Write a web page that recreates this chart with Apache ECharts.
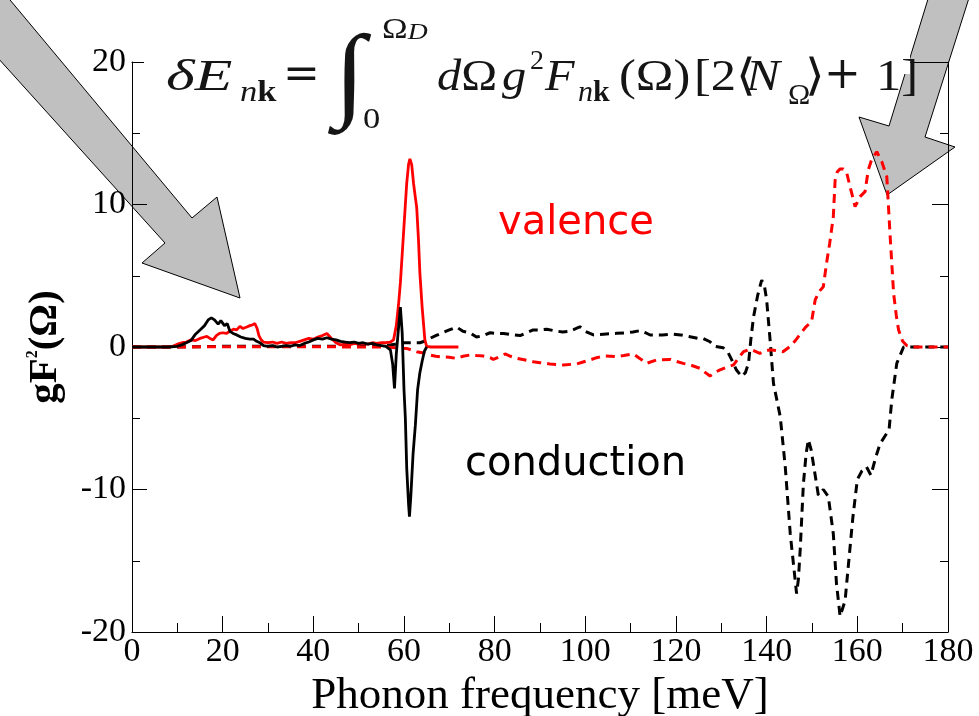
<!DOCTYPE html>
<html>
<head>
<meta charset="utf-8">
<style>
  html, body { margin: 0; padding: 0; background: #fff; overflow: hidden; }
  #chart { width: 979px; height: 716px; }
</style>
<script src="https://cdn.jsdelivr.net/npm/echarts@6/dist/echarts.min.js"></script>
</head>
<body>
<div id="chart"></div>
<script>
// ---- data (meV, gF^2) ----
const xTicks = [0, 20, 40, 60, 80, 100, 120, 140, 160, 180];
const yTicks = [-20, -10, 0, 10, 20];

// conduction, low-energy part (solid black)
const conductionSolid = [[0,0],[5,0],[8,0],[10,0.05],[11,0.15],[12,0.3],[13,0.45],[14,0.9],[15,1.2],[16,1.5],[16.8,1.9],[17.5,2.05],[18.2,1.9],[19,1.6],[19.6,1.85],[20.4,1.5],[21,1.65],[21.6,1.1],[22.3,0.95],[23.1,0.85],[24,0.7],[25,0.6],[26,0.55],[26.8,0.55],[27.5,0.4],[28.2,0.3],[29,0.1],[30,0.05],[31,0.1],[32,0],[33,0.05],[34,0.1],[35,0.05],[36,0.15],[37,0.1],[38,0.25],[39,0.35],[40,0.5],[41,0.6],[42,0.55],[43,0.65],[44,0.55],[45,0.5],[46,0.4],[47,0.35],[48,0.3],[49,0.35],[50,0.25],[51,0.3],[52,0.2],[53,0.25],[54,0.15],[55,0.1],[56,0.05],[57,-0.2],[57.5,-1.2],[57.9,-2.9],[58.3,-0.5],[58.7,1.0],[59.2,2.8],[59.6,1.0],[60,-3],[60.3,-5],[60.6,-8.5],[61,-11],[61.2,-11.9],[61.5,-10.5],[62,-7.5],[62.5,-5.5],[63,-3],[63.5,-1.8],[64,-1],[64.5,-0.3],[65,0]];

// valence, low-energy part (solid red)
const valenceSolid = [[0,0],[8,0],[9,0.05],[10,0.2],[11,0.3],[12,0.35],[13,0.5],[14,0.45],[15,0.6],[16,0.7],[16.5,0.75],[17.2,0.6],[17.9,0.5],[18.6,0.8],[19.3,0.95],[20,1.0],[20.8,0.95],[21.6,1.1],[22.4,1.25],[23.1,1.2],[23.8,1.45],[24.5,1.3],[25.3,1.4],[26,1.5],[26.6,1.55],[27.1,1.65],[27.6,1.3],[28,0.8],[28.5,0.5],[29,0.35],[30,0.3],[31,0.35],[32,0.25],[33,0.35],[34,0.25],[35,0.3],[36,0.3],[37,0.4],[38,0.5],[39,0.6],[40,0.55],[41,0.7],[42,0.8],[43,0.95],[44,0.6],[45,0.3],[46,0.15],[47,0.2],[48,0.15],[49,0.25],[50,0.2],[51,0.25],[52,0.2],[53,0.3],[54,0.25],[55,0.3],[56,0.3],[57,0.35],[57.7,0.5],[58.3,1.5],[58.8,3],[59.2,4.5],[59.7,7],[60.2,9.5],[60.6,11.5],[61,12.8],[61.3,13.2],[61.7,12.8],[62.1,11.5],[62.5,10.5],[62.8,9.8],[63.2,7.5],[63.5,5.2],[64,2.8],[64.6,0.5],[65,0.05],[66,0],[72,0]];

// conduction, full spectrum (dashed black)
const conductionDashed = [[0,0],[10,0],[20,0.05],[30,0.05],[40,0.05],[50,0.05],[56,0.1],[58,0.2],[60,0.3],[62,0.3],[63.5,0.3],[64.5,0.4],[65.7,0.6],[67,0.8],[68.5,1.0],[70,1.2],[71.6,1.4],[73,1.1],[74.5,1.0],[76,0.7],[77.5,0.8],[79,1.0],[80.5,0.95],[82,0.95],[84,0.85],[85.6,0.8],[87,1.0],[88.5,1.2],[90,1.2],[91.5,1.25],[93,1.15],[95,1.05],[96.5,1.1],[98,1.3],[98.8,1.42],[100,1.1],[101.8,0.85],[104,0.9],[106.9,0.96],[109,1.0],[110.5,1.05],[112.1,1.15],[113.3,1.0],[114.3,0.84],[117,0.85],[119.4,0.9],[121,0.85],[123.1,0.72],[125,0.6],[126,0.6],[127.5,0.37],[128.5,0.05],[130.4,-0.05],[131.5,-0.4],[132.3,-0.9],[133.3,-1.6],[134.5,-2.08],[135.3,-1.8],[136,-1.15],[136.5,0.5],[137.1,2.1],[138,3.6],[138.9,4.7],[139.5,4.3],[140,3.3],[140.4,1.8],[140.7,0.7],[141.5,-2.55],[142.3,-3.8],[143,-4.9],[144.1,-8.4],[145.2,-13.1],[146,-15.5],[146.6,-17.3],[147,-16.3],[147.4,-14.2],[148.1,-9.6],[148.7,-7.5],[149.2,-6.5],[149.8,-7.2],[150.3,-8.2],[151.4,-10.4],[152.5,-10.0],[153.6,-10.5],[154.7,-13.1],[155.4,-16.6],[156.2,-18.9],[157.3,-17.8],[158,-15.4],[159,-12],[160,-9.3],[161,-8.7],[162,-8.4],[163,-9.0],[164,-7.8],[165,-6.8],[166,-6.3],[167,-5.8],[167.6,-3.7],[168.7,-1.15],[170.2,0],[172,0],[180,0]];

// valence, full spectrum (dashed red)
const valenceDashed = [[0,0],[10,0],[20,0.02],[30,0.02],[40,0.02],[50,0],[56,0],[58,-0.05],[60.6,-0.1],[62.8,-0.33],[64,-0.4],[65.7,-0.56],[67,-0.65],[68.7,-0.7],[70,-0.72],[71.6,-0.8],[73,-0.65],[74.6,-0.56],[76,-0.6],[77.5,-0.63],[79,-0.75],[79.7,-0.87],[81,-0.7],[82.3,-0.49],[83.5,-0.65],[84.9,-0.8],[86.5,-0.9],[88.5,-1.03],[90,-1.1],[92.2,-1.19],[95.1,-1.26],[98.1,-1.19],[99.5,-1.05],[101,-0.91],[102.5,-0.75],[104,-0.63],[106.9,-0.68],[108.5,-0.6],[110.6,-0.49],[112,-0.8],[113.5,-1.15],[115.7,-0.91],[118.7,-0.87],[120,-1.0],[121.6,-1.15],[123.5,-1.3],[125.3,-1.5],[126.5,-1.8],[127.5,-2.03],[128.5,-1.8],[129.7,-1.61],[131,-1.45],[132.7,-1.26],[134.1,-0.63],[134.9,-0.33],[136.3,-0.15],[137.5,-0.3],[138.5,-0.44],[139.5,-0.3],[140.7,-0.2],[142,-0.25],[143.6,-0.33],[145.1,0.02],[146.2,0.4],[147.4,0.9],[148.6,1.4],[149.9,1.78],[150.7,3.3],[151.6,3.9],[152.5,4.23],[153.2,5.87],[153.9,7.27],[154.7,9.14],[155.1,11.7],[155.6,12.3],[156.2,12.5],[156.9,12.5],[157.6,12.3],[158.4,11.25],[159,10.5],[159.5,9.85],[160.1,10.2],[160.6,10.55],[161.7,10.9],[162.4,12.4],[163.2,13.2],[164.3,13.7],[165.4,13.0],[166.5,11.95],[167.2,7.98],[168,3.77],[168.6,2.2],[169.1,1.19],[170,0.4],[170.9,0.1],[172,0],[180,0]];

const xTitle = 'Phonon frequency [meV]';
const valenceLabel = 'valence';
const conductionLabel = 'conduction';

// ---- chart ----
const SERIF = "'Liberation Serif', 'Times New Roman', serif";
const SANS = "'DejaVu Sans', sans-serif";
const chart = echarts.init(document.getElementById('chart'), null, { renderer: 'canvas', width: 979, height: 716 });

const axisCommon = {
  type: 'value',
  axisLine: { show: true, onZero: false, lineStyle: { color: '#000', width: 1 } },
  splitLine: { show: false },
  axisTick: { show: true, inside: true, length: 15, lineStyle: { color: '#000', width: 1 } },
  minorTick: { show: true, splitNumber: 2, length: 8, lineStyle: { color: '#000', width: 1 } },
  minorSplitLine: { show: false }
};

function ftext(text, x, y, fs, opts) {
  opts = opts || {};
  return {
    type: 'text', x: x, y: y, z: 20, scaleX: opts.sx || 1.15,
    style: Object.assign({
      text: text, fill: '#151515', fontFamily: opts.ff || SERIF, fontSize: fs,
      fontStyle: opts.italic ? 'italic' : 'normal', fontWeight: opts.bold ? 'bold' : 'normal',
      align: 'left', verticalAlign: 'middle'
    }, opts.rich ? { rich: opts.rich } : {})
  };
}
const subRich = {
  i: { fontFamily: SERIF, fontStyle: 'italic', fontSize: 30, fill: '#151515' },
  b: { fontFamily: SERIF, fontWeight: 'bold', fontSize: 30, fill: '#151515' },
  u: { fontFamily: SERIF, fontSize: 44, fill: '#151515' },
  ui: { fontFamily: SERIF, fontStyle: 'italic', fontSize: 44, fill: '#151515' }
};

const option = {
  animation: false,
  backgroundColor: '#fff',
  grid: { left: 132, top: 62, width: 816, height: 570, containLabel: false, outerBoundsMode: 'none' },
  xAxis: [
    Object.assign({}, axisCommon, {
      position: 'bottom', min: 0, max: 180, interval: 20,
      axisLabel: { show: true, color: '#000', fontFamily: SERIF, fontSize: 34, margin: 3,
        formatter: v => (xTicks.indexOf(v) >= 0 ? String(v) : '') },
      axisTick: Object.assign({}, axisCommon.axisTick, { length: 16 }),
      minorTick: Object.assign({}, axisCommon.minorTick, { length: 9 }),
      name: xTitle, nameLocation: 'middle', nameGap: 39,
      nameTextStyle: { color: '#000', fontFamily: SERIF, fontSize: 45 }
    }),
    Object.assign({}, axisCommon, {
      position: 'top', min: 0, max: 180, interval: 20,
      axisLabel: { show: false }, axisTick: { show: false }, minorTick: { show: false }
    })
  ],
  yAxis: [
    Object.assign({}, axisCommon, {
      position: 'left', min: -20, max: 20, interval: 10,
      axisLabel: { show: true, color: '#000', fontFamily: SERIF, fontSize: 34, margin: 6,
        formatter: v => (yTicks.indexOf(v) >= 0 ? String(v) : '') },
      name: '{a|gF}{s|2}{a|(Ω)}', nameLocation: 'middle', nameRotate: 90, nameGap: 66,
      nameTextStyle: {
        color: '#000',
        rich: {
          a: { fontFamily: SERIF, fontSize: 41, fontWeight: 'bold', color: '#000' },
          s: { fontFamily: SERIF, fontSize: 16, fontWeight: 'bold', color: '#000', verticalAlign: 'top' }
        }
      }
    }),
    Object.assign({}, axisCommon, {
      position: 'right', min: -20, max: 20, interval: 10,
      axisLabel: { show: false },
      axisTick: Object.assign({}, axisCommon.axisTick, { length: 16 })
    })
  ],
  graphic: [
    // big grey arrows (under everything)
    { type: 'polygon', z: -1, shape: { points: [[-40,-60],[192,218],[217,197],[240,298],[142,263],[165,243],[-40,16]] },
      style: { fill: '#c0c0c0', stroke: '#000', lineWidth: 1 } },
    { type: 'polygon', z: -1, shape: { points: [[940,-40],[889,126],[859,117],[887,195],[955,147],[925,137],[981,-40]] },
      style: { fill: '#c0c0c0', stroke: '#000', lineWidth: 1 } },
    // white box of the formula covering the top frame
    { type: 'rect', z: 15, shape: { x: 144, y: 50, width: 766, height: 24 }, style: { fill: '#fff' } },
    // formula
    ftext('δE', 166, 78, 44, { italic: true, sx: 1.4 }),
    ftext('{i|n}{b|k}', 240, 93, 30, { rich: subRich }),
    ftext('=', 283, 77, 44, { ff: "'DejaVu Serif', serif", sx: 1.0 }),
    ftext('∫', 334, 80, 104, { sx: 1.1 }),
    ftext('{u|Ω}{i|D}', 382, 30, 30, { rich: { u: { fontFamily: SERIF, fontSize: 30, fill: '#151515' }, i: { fontFamily: SERIF, fontStyle: 'italic', fontSize: 24, fill: '#151515', verticalAlign: 'bottom' } } }),
    ftext('0', 363, 120, 30, {}),
    ftext('{ui|d}{u|Ω}', 437, 78, 44, { rich: subRich, sx: 1.1 }),
    ftext('g', 502, 78, 44, { italic: true, sx: 1.1 }),
    ftext('2', 530, 62, 28, { sx: 1.0 }),
    ftext('F', 545, 78, 44, { italic: true, sx: 1.1 }),
    ftext('{i|n}{b|k}', 578, 93, 30, { rich: subRich, sx: 1.0 }),
    ftext('(Ω)', 619, 78, 44, {}),
    ftext('[2⟨', 694, 78, 44, {}),
    ftext('N', 746, 78, 44, { italic: true }),
    ftext('Ω', 788, 96, 30, { sx: 1.0 }),
    ftext('⟩', 805, 78, 44, {}),
    ftext('+', 824, 77, 44, { ff: "'DejaVu Serif', serif", sx: 1.0 }),
    ftext('1]', 876, 78, 44, {}),
    // in-plot labels
    { type: 'text', x: 498, y: 224, z: 20, style: { text: valenceLabel, fill: '#ff0000', fontFamily: SANS, fontSize: 40, align: 'left', verticalAlign: 'middle' } },
    { type: 'text', x: 465, y: 465, z: 20, style: { text: conductionLabel, fill: '#000', fontFamily: SANS, fontSize: 40, align: 'left', verticalAlign: 'middle' } }
  ],
  series: [
    { name: 'conduction (full)', type: 'line', data: conductionDashed, showSymbol: false, symbol: 'none',
      lineStyle: { color: '#000', width: 3, type: [9, 6] }, z: 2 },
    { name: 'valence (full)', type: 'line', data: valenceDashed, showSymbol: false, symbol: 'none',
      lineStyle: { color: '#ff0000', width: 3, type: [9, 6] }, z: 3 },
    { name: 'valence', type: 'line', data: valenceSolid, showSymbol: false, symbol: 'none',
      lineStyle: { color: '#ff0000', width: 2.8 }, z: 4 },
    { name: 'conduction', type: 'line', data: conductionSolid, showSymbol: false, symbol: 'none',
      lineStyle: { color: '#000', width: 2.8 }, z: 5 }
  ]
};
chart.setOption(option);
</script>
</body>
</html>
